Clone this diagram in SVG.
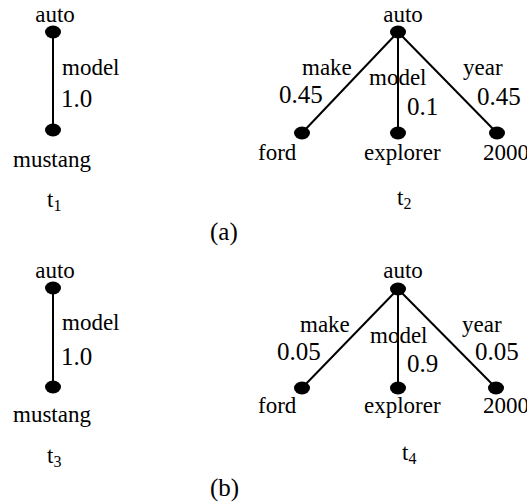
<svg xmlns="http://www.w3.org/2000/svg" width="527" height="504" viewBox="0 0 527 504" font-family="'Liberation Serif', 'DejaVu Serif', 'Times New Roman', serif">
<style>
text{font-family:'Liberation Serif','DejaVu Serif','Times New Roman',serif;fill:#000}
.l{font-size:23px}
.n{font-size:25px}
.s{font-size:16px}
.e{stroke:#000;stroke-width:2;fill:none}
.d{fill:#000}
</style>
<rect width="527" height="504" fill="#fff"/>
<g id="connectors">
<line class="e" x1="53" y1="32" x2="53" y2="130"/>
<line class="e" x1="398" y1="32" x2="302" y2="133"/>
<line class="e" x1="398" y1="32" x2="398" y2="133"/>
<line class="e" x1="398" y1="32" x2="497" y2="133"/>
<line class="e" x1="53" y1="288" x2="53" y2="387"/>
<line class="e" x1="398" y1="289" x2="302" y2="388"/>
<line class="e" x1="398" y1="289" x2="398" y2="388"/>
<line class="e" x1="398" y1="289" x2="496" y2="388"/>
</g>
<g id="t1">
<g id="t1-auto"><ellipse class="d" cx="53" cy="32" rx="8" ry="6.5"/><text class="l" x="55" y="22" text-anchor="middle">auto</text></g>
<g id="t1-mustang"><ellipse class="d" cx="53" cy="130" rx="8" ry="6.5"/><text class="l" x="13" y="167">mustang</text></g>
<text class="l" x="62" y="75">model</text>
<text class="n" x="61" y="107">1.0</text>
<text class="l" x="47" y="207">t<tspan class="s" dy="4">1</tspan></text>
</g>
<g id="t2">
<g id="t2-auto"><ellipse class="d" cx="398" cy="32" rx="8" ry="6.5"/><text class="l" x="403" y="22" text-anchor="middle">auto</text></g>
<g id="t2-ford"><ellipse class="d" cx="302" cy="133" rx="8" ry="6.5"/><text class="l" x="258" y="160">ford</text></g>
<g id="t2-explorer"><ellipse class="d" cx="398" cy="133" rx="8" ry="6.5"/><text class="l" x="364" y="160">explorer</text></g>
<g id="t2-2000"><ellipse class="d" cx="497" cy="133" rx="8" ry="6.5"/><text class="l" x="483" y="160">2000</text></g>
<text class="l" x="302" y="75">make</text>
<text class="n" x="279" y="103">0.45</text>
<text class="l" x="369" y="85">model</text>
<text class="n" x="407" y="115">0.1</text>
<text class="l" x="463" y="75">year</text>
<text class="n" x="477" y="105">0.45</text>
<text class="l" x="397" y="205">t<tspan class="s" dy="4">2</tspan></text>
</g>
<text class="n" x="210" y="240">(a)</text>
<g id="t3">
<g id="t3-auto"><ellipse class="d" cx="53" cy="288" rx="8" ry="6.5"/><text class="l" x="55" y="278" text-anchor="middle">auto</text></g>
<g id="t3-mustang"><ellipse class="d" cx="53" cy="387" rx="8" ry="6.5"/><text class="l" x="13" y="422">mustang</text></g>
<text class="l" x="62" y="330">model</text>
<text class="n" x="61" y="365">1.0</text>
<text class="l" x="47" y="463">t<tspan class="s" dy="4">3</tspan></text>
</g>
<g id="t4">
<g id="t4-auto"><ellipse class="d" cx="398" cy="289" rx="8" ry="6.5"/><text class="l" x="403" y="278" text-anchor="middle">auto</text></g>
<g id="t4-ford"><ellipse class="d" cx="302" cy="388" rx="8" ry="6.5"/><text class="l" x="258" y="413">ford</text></g>
<g id="t4-explorer"><ellipse class="d" cx="398" cy="388" rx="8" ry="6.5"/><text class="l" x="364" y="413">explorer</text></g>
<g id="t4-2000"><ellipse class="d" cx="496" cy="388" rx="8" ry="6.5"/><text class="l" x="483" y="413">2000</text></g>
<text class="l" x="300" y="332">make</text>
<text class="n" x="277" y="360">0.05</text>
<text class="l" x="370" y="343">model</text>
<text class="n" x="407" y="372">0.9</text>
<text class="l" x="462" y="332">year</text>
<text class="n" x="475" y="360">0.05</text>
<text class="l" x="402" y="460">t<tspan class="s" dy="4">4</tspan></text>
</g>
<text class="n" x="210" y="496">(b)</text>
</svg>
